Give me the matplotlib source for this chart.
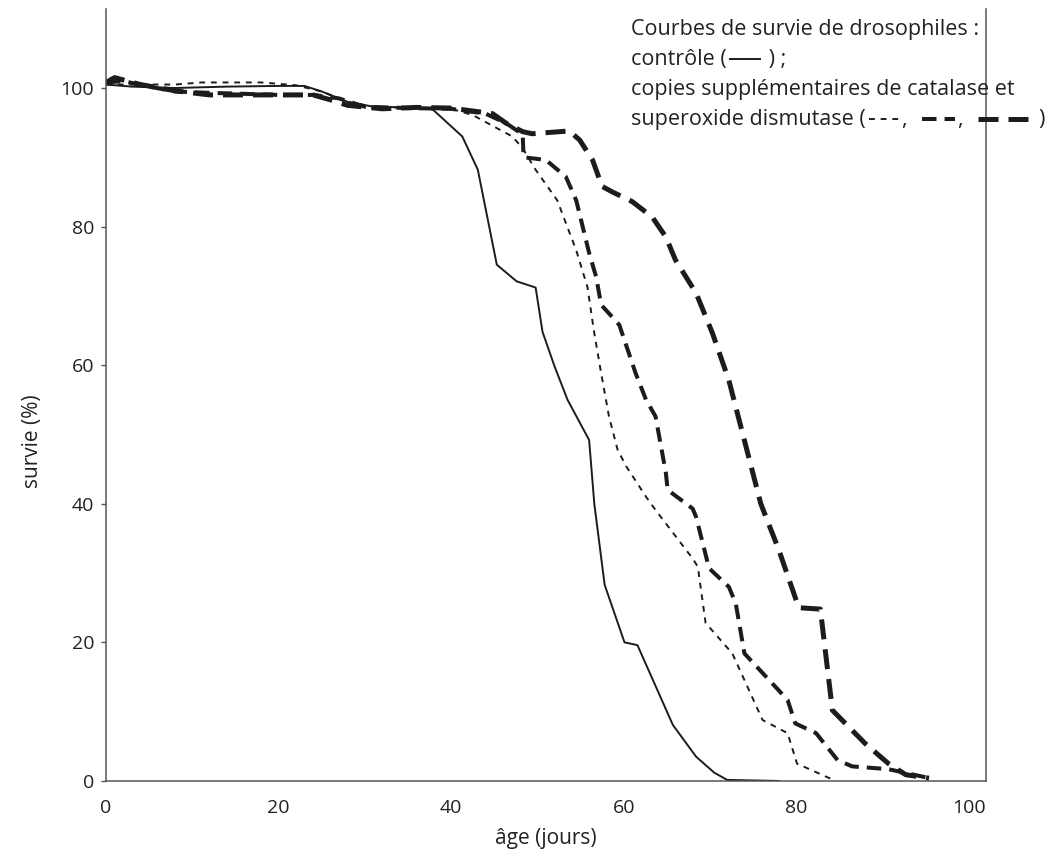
import matplotlib
matplotlib.use("Agg")
import matplotlib.pyplot as plt
from matplotlib.lines import Line2D
from matplotlib.offsetbox import TextArea, DrawingArea, HPacker, VPacker, AnchoredOffsetbox

plt.rcParams['font.family'] = ['Open Sans', 'DejaVu Sans']

# survival curves: age (days) / survival (%)
ctrl_age = [0, 3, 8, 14, 20, 23, 25, 28, 31, 35, 37.7, 41.3, 43.1, 45.3, 47.6, 49.8,
            50.6, 52.0, 53.5, 56.0, 56.6, 57.8, 60.1, 61.6, 65.7, 68.4, 70.5, 72.0, 78.0]
ctrl_surv = [100.5, 100.2, 100.0, 100.2, 100.3, 100.3, 99.5, 98.0, 97.3, 97.2, 97.1, 93.0, 88.2, 74.5, 72.1, 71.2,
             64.8, 59.8, 55.0, 49.2, 40.0, 28.3, 20.0, 19.6, 8.1, 3.5, 1.2, 0.15, 0.0]

cat1_age = [0, 3, 8, 11, 18, 22, 25, 28, 31, 35, 40, 42.5, 47.1, 48.3, 49.8, 52.3, 54.5,
            55.8, 56.6, 57.4, 58.3, 59.3, 60.3, 62.6, 63.7, 68.0, 68.6, 69.5, 72.6, 76.1,
            79.0, 80.1, 84.4]
cat1_surv = [100.5, 100.5, 100.5, 100.8, 100.8, 100.4, 99.5, 98.0, 97.3, 97.1, 97.0, 96.1, 93.0, 91.3, 88.2, 83.8, 76.6,
             71.3, 64.6, 58.8, 52.6, 47.8, 45.4, 41.0, 39.1, 32.1, 30.9, 22.8, 18.4, 8.8,
             6.9, 2.5, 0.1]

cat2_age = [0, 2, 5, 8, 12, 15, 20, 24, 27, 30, 35, 40, 44, 46.4, 48.3, 48.4, 49.8, 51.0,
            53.3, 54.5, 56.0, 56.8, 57.4, 58.5, 59.5, 61.4, 62.6, 63.7, 64.9, 65.1, 68.0,
            68.4, 69.9, 72.2, 73.0, 74.0, 79.0, 79.9, 82.3, 84.8, 86.5, 90.7, 92.5, 95.5]
cat2_surv = [100.8, 101.0, 100.2, 99.5, 99.3, 99.2, 99.0, 99.0, 98.5, 97.3, 97.1, 97.0, 96.3, 94.9, 93.3, 90.0, 89.8, 89.6,
             87.2, 83.8, 76.2, 72.8, 68.7, 67.2, 65.8, 58.8, 55.0, 52.6, 44.4, 42.0, 39.3,
             38.1, 30.7, 28.0, 25.6, 18.4, 11.7, 8.3, 6.9, 3.0, 2.1, 1.7, 1.2, 0.4]

cat3_age = [0, 1, 4, 8, 12, 16, 20, 24, 26, 28, 32, 36, 40, 44.8, 46.4, 48.3, 49.4, 53.7,
            54.9, 56.4, 57.5, 58.7, 61.0, 63.3, 64.9, 66.0, 68.4, 70.3, 72.2, 73.8, 75.9,
            78.0, 80.3, 82.8, 84.2, 88.0, 90.7, 92.7, 95.4]
cat3_surv = [100.8, 101.5, 100.5, 99.6, 99.0, 99.0, 99.0, 99.0, 98.3, 97.5, 97.0, 97.2, 97.1, 96.3, 94.9, 93.7, 93.4, 93.8,
             92.5, 89.6, 85.8, 85.0, 83.6, 81.4, 78.5, 75.2, 70.4, 64.6, 57.8, 50.1, 40.0,
             33.3, 25.0, 24.8, 10.2, 5.4, 2.5, 0.9, 0.4]

y_ticks = [0, 20, 40, 60, 80, 100]
x_ticks = [0, 20, 40, 60, 80, 100]

ink = '#1c1c1c'
axis_col = '#555555'
txt_col = '#222222'
styles = {
    'ctrl': dict(color=ink, lw=1.4, ls='-'),
    'cat1': dict(color=ink, lw=1.4, ls=(0, (3, 3))),
    'cat2': dict(color=ink, lw=2.9, ls=(0, (3.6, 2))),
    'cat3': dict(color=ink, lw=3.6, ls=(0, (4, 2))),
}

fig = plt.figure(figsize=(10.61, 8.66), dpi=100)
ax = fig.add_axes([0.0999, 0.0982, 0.8294, 0.8914])

ax.plot(ctrl_age, ctrl_surv, **styles['ctrl'])
ax.plot(cat1_age, cat1_surv, **styles['cat1'])
ax.plot(cat2_age, cat2_surv, **styles['cat2'])
ax.plot(cat3_age, cat3_surv, **styles['cat3'])

ax.set_xlim(0, 102)
ax.set_ylim(0, 111.4)
ax.set_xticks(x_ticks)
ax.set_yticks(y_ticks)
ax.tick_params(axis='y', length=3.5, width=1, color=axis_col, pad=5, labelsize=14, labelcolor=txt_col)
ax.tick_params(axis='x', length=0, pad=13, labelsize=14, labelcolor=txt_col)
ax.spines['top'].set_visible(False)
for s in ['left', 'bottom', 'right']:
    ax.spines[s].set_color(axis_col)
    ax.spines[s].set_linewidth(1.1)

ax.set_xlabel('âge (jours)', fontsize=15, color=txt_col, labelpad=8)
ax.set_ylabel('survie (%)', fontsize=15, color=txt_col)
ax.yaxis.set_label_coords(-0.072, 0.44)

# legend-like text block with line samples
tprops = dict(fontsize=15.5, color=txt_col)


def sample(key, w=24):
    da = DrawingArea(w, 10, 0, 0)
    da.add_artist(Line2D([0, w], [4.5, 4.5], **styles[key]))
    return da


def row(items):
    return HPacker(children=items, align='baseline', pad=0, sep=2)


rows = [
    TextArea('Courbes de survie de drosophiles :', textprops=tprops),
    row([TextArea('contrôle (', textprops=tprops), sample('ctrl', 22), TextArea(' ) ;', textprops=tprops)]),
    TextArea('copies supplémentaires de catalase et', textprops=tprops),
    row([TextArea('superoxide dismutase (', textprops=tprops), sample('cat1', 22),
         TextArea(',  ', textprops=tprops), sample('cat2', 24),
         TextArea(',  ', textprops=tprops), sample('cat3', 42),
         TextArea(')', textprops=tprops)]),
]
box = VPacker(children=rows, align='left', pad=0, sep=6.5)
anchored = AnchoredOffsetbox(loc='upper left', child=box, pad=0, frameon=False,
                             bbox_to_anchor=(0.595, 0.978), bbox_transform=fig.transFigure,
                             borderpad=0)
fig.add_artist(anchored)

fig.savefig('out.png', dpi=100)
